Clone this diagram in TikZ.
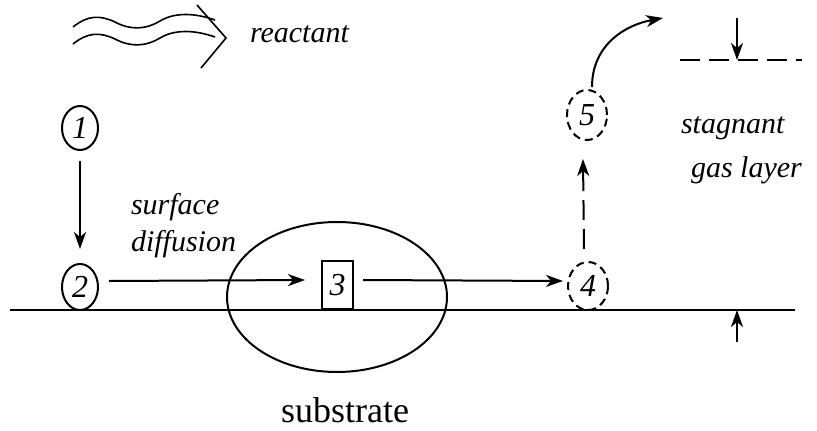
\documentclass[tikz,border=0pt]{standalone}
\usepackage{fontspec}
\setmainfont{Liberation Serif}
\usetikzlibrary{arrows.meta,shapes.geometric}
\begin{document}
\begin{tikzpicture}[x=1pt,y=-1pt,
  line width=2pt,
  tip/.style={-{Stealth[length=17pt,width=12pt,inset=5pt]}},
  lbl/.style={font=\fontsize{30}{32}\selectfont\itshape, inner sep=0pt},
  numc/.style={ellipse, draw, font=\fontsize{32}{32}\selectfont\itshape, inner sep=0pt, minimum width=36pt, minimum height=46pt},
  dashc/.style={numc, dash pattern=on 8pt off 5pt},
]
\useasboundingbox (0,0) rectangle (817,431);
% ground line
\coordinate (gl) at (10,310);
\coordinate (gr) at (795,310);
\draw (gl) -- (gr);
% substrate ellipse
\draw (337,297) ellipse [x radius=110, y radius=75];
\node[font=\fontsize{36}{38}\selectfont, inner sep=0pt] (sub) at (345,410) {substrate};
% nodes
\node[numc, minimum height=44pt] (n1) at (80,128) {1};
\node[numc] (n2) at (80,287) {2};
\node[draw, minimum width=31pt, minimum height=48pt, inner sep=0pt, anchor=south,
      font=\fontsize{32}{32}\selectfont\itshape] (n3) at (337.5,310) {3};
\node[dashc, minimum width=40pt, minimum height=48pt] (n4) at (588,286) {4};
\node[dashc, minimum width=40pt, minimum height=50pt] (n5) at (587,115) {5};
% connectors
\draw[tip] ([yshift=-10pt]n1.south) -- ([yshift=14pt]n2.north);
\draw[tip] ([xshift=10pt,yshift=6pt]n2.east) -- ([xshift=-16pt,yshift=5pt]n3.west);
\coordinate (a34) at ([xshift=9pt,yshift=5pt]n3.east);
\draw[tip] (a34) -- ([xshift=-4pt,yshift=5pt]n4.west);
\draw[tip, dash pattern=on 20pt off 9pt] ([xshift=-4pt,yshift=12pt]n4.north) -- ([xshift=-4pt,yshift=-18pt]n5.south);
\coordinate (up) at (663,18);
\draw[tip] ([xshift=5pt,yshift=2pt]n5.north) .. controls (592,45) and (625,25) .. (up);
% labels
\node[lbl, anchor=west] (reac) at (249,34) {reactant};
\node[lbl, anchor=west] (surf) at (130,207) {surface};
\node[lbl, anchor=west] (diff) at (130,244) {diffusion};
\node[lbl, anchor=west] (stag) at (680,128) {stagnant};
\node[lbl, anchor=west] (gas) at (690,170) {gas layer};
% stagnant layer marks
\coordinate (dl) at (680,60);
\coordinate (dr) at (802,60);
\draw[dash pattern=on 20pt off 9pt] (dl) -- (dr);
\coordinate (t1) at (737,18);
\coordinate (t2) at (737,60);
\draw[tip] (t1) -- (t2);
\coordinate (b1) at (737,342);
\coordinate (b2) at (737,310);
\draw[tip] (b1) -- (b2);
% wavy reactant arrow
\draw[line width=1.6pt] (73,27) .. controls (88,15) and (100,15) .. (115,22)
  .. controls (130,30) and (145,30) .. (160,21) .. controls (175,12) and (195,13) .. (215,20);
\draw[line width=1.6pt] (73,44) .. controls (88,32) and (100,32) .. (115,39)
  .. controls (130,47) and (145,47) .. (160,38) .. controls (175,29) and (195,30) .. (215,37);
\draw[line width=1.6pt] (197,5) -- (226,38) -- (201,68);
\end{tikzpicture}
\end{document}
